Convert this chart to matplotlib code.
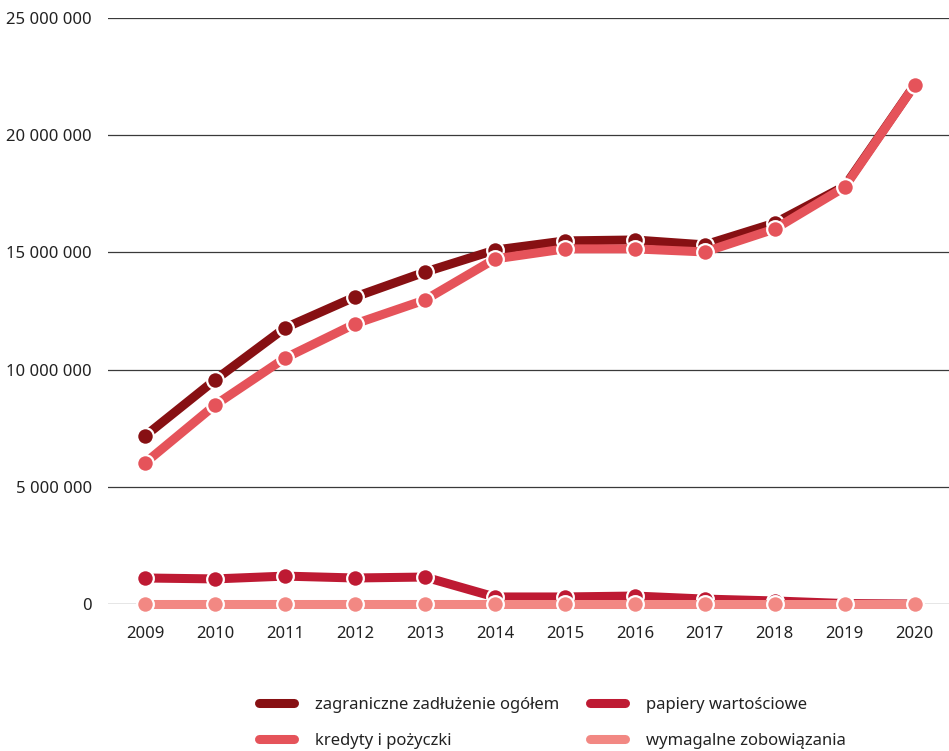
import matplotlib.pyplot as plt
from matplotlib.ticker import FuncFormatter
from matplotlib.lines import Line2D

plt.rcParams['font.family'] = ['Noto Sans', 'DejaVu Sans']

years = [2009, 2010, 2011, 2012, 2013, 2014, 2015, 2016, 2017, 2018, 2019, 2020]
total = [7170000, 9560000, 11780000, 13100000, 14160000, 15100000,
         15490000, 15530000, 15320000, 16250000, 17830000, 22150000]
loans = [6020000, 8490000, 10490000, 11950000, 12970000, 14720000,
         15150000, 15150000, 15020000, 16000000, 17790000, 22140000]
securities = [1110000, 1070000, 1190000, 1110000, 1150000, 300000,
              300000, 340000, 210000, 130000, 20000, 0]
payables = [10000, 10000, 10000, 10000, 10000, 10000,
            10000, 10000, 10000, 10000, 10000, 10000]

series = [
    ('zagraniczne zadłużenie ogółem', total, '#871013'),
    ('kredyty i pożyczki', loans, '#E5535A'),
    ('papiery wartościowe', securities, '#BE1A33'),
    ('wymagalne zobowiązania', payables, '#F28883'),
]

fig = plt.figure(figsize=(9.49, 7.51), dpi=100)
ax = fig.add_axes([108 / 949, 1 - 604 / 751, 841 / 949, 586 / 751])

for label, vals, col in series:
    ax.plot(years, vals, color=col, lw=6.5, marker='o', ms=12,
            markerfacecolor=col, markeredgecolor='white', markeredgewidth=1.6,
            solid_capstyle='round', label=label, clip_on=False)

ax.set_xlim(2008.47, 2020.49)
ax.set_ylim(0, 25000000)
ax.set_yticks(range(0, 25000001, 5000000))
ax.yaxis.set_major_formatter(FuncFormatter(lambda v, p: f'{int(v):,}'.replace(',', ' ')))
ax.set_xticks(years)
ax.grid(axis='y', color='#3a3a3a', lw=0.9)
ax.set_axisbelow(True)
for s in ax.spines.values():
    s.set_visible(False)
ax.tick_params(axis='both', length=0, labelsize=12, colors='#222222')
ax.tick_params(axis='y', pad=11.5)
ax.tick_params(axis='x', pad=16)

labels = [s[0] for s in series]
h2 = [Line2D([0], [0], color=c, lw=6.5, solid_capstyle='round') for _, _, c in series]
fig.legend(h2, labels, ncol=2, loc='center', bbox_to_anchor=(0.582, 0.037),
           frameon=False, fontsize=12, handlelength=2.1, handletextpad=1.3,
           columnspacing=1.8, labelspacing=1.2, labelcolor='#222222')

fig.savefig('out.png', dpi=100)
